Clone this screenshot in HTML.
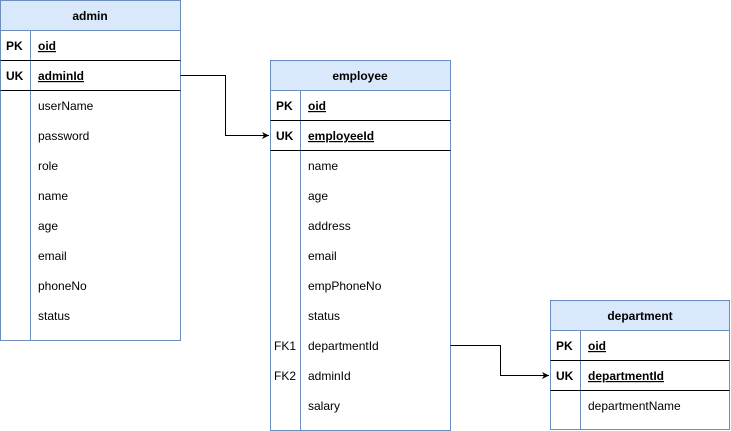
<!DOCTYPE html>
<html><head><meta charset="utf-8"><style>
html,body{margin:0;padding:0;background:#fff;}
svg{display:block;}
text{font-family:"Liberation Sans",Arial,sans-serif;font-size:12px;fill:#000;}
.h{font-weight:bold;}
.k{font-weight:bold;}
.u{text-decoration:underline;font-weight:bold;}
</style></head><body>
<svg width="731" height="431" viewBox="0 0 731 431" xmlns="http://www.w3.org/2000/svg">
<defs><marker id="a" markerWidth="8" markerHeight="8" refX="7" refY="4" orient="auto" markerUnits="userSpaceOnUse"><path d="M0,0.5 L7,4 L0,7.5 L2,4 Z" fill="#000"/></marker></defs>

<g transform="translate(0.5,0.5)">
<rect x="0" y="0" width="180" height="340" fill="#fff" stroke="#6c8ebf"/>
<rect x="0" y="0" width="180" height="30" fill="#dae8fc" stroke="#6c8ebf"/>
<line x1="30" y1="30" x2="30" y2="340" stroke="#6c8ebf"/>
<line x1="0" y1="60" x2="180" y2="60" stroke="#000"/>
<line x1="0" y1="90" x2="180" y2="90" stroke="#000"/>
</g>
<g transform="translate(0,1)">
<text class="h" x="90" y="19" text-anchor="middle">admin</text>
<text class="k" x="6" y="49">PK</text><text class="u" x="38" y="49">oid</text>
<text class="k" x="6" y="79">UK</text><text class="u" x="38" y="79">adminId</text>
<text x="38" y="109">userName</text>
<text x="38" y="139">password</text>
<text x="38" y="169">role</text>
<text x="38" y="199">name</text>
<text x="38" y="229">age</text>
<text x="38" y="259">email</text>
<text x="38" y="289">phoneNo</text>
<text x="38" y="319">status</text>
</g>

<g transform="translate(270.5,60.5)">
<rect x="0" y="0" width="180" height="370" fill="#fff" stroke="#6c8ebf"/>
<rect x="0" y="0" width="180" height="30" fill="#dae8fc" stroke="#6c8ebf"/>
<line x1="30" y1="30" x2="30" y2="370" stroke="#6c8ebf"/>
<line x1="0" y1="60" x2="180" y2="60" stroke="#000"/>
<line x1="0" y1="90" x2="180" y2="90" stroke="#000"/>
</g>
<g transform="translate(0,1)">
<text class="h" x="360" y="79" text-anchor="middle">employee</text>
<text class="k" x="276" y="109">PK</text><text class="u" x="308" y="109">oid</text>
<text class="k" x="276" y="139">UK</text><text class="u" x="308" y="139">employeeId</text>
<text x="308" y="169">name</text>
<text x="308" y="199">age</text>
<text x="308" y="229">address</text>
<text x="308" y="259">email</text>
<text x="308" y="289">empPhoneNo</text>
<text x="308" y="319">status</text>
<text x="274" y="349">FK1</text><text x="308" y="349">departmentId</text>
<text x="274" y="379">FK2</text><text x="308" y="379">adminId</text>
<text x="308" y="409">salary</text>
</g>

<g transform="translate(550.5,300.5)">
<rect x="0" y="0" width="179" height="129" fill="#fff" stroke="#6c8ebf"/>
<rect x="0" y="0" width="179" height="30" fill="#dae8fc" stroke="#6c8ebf"/>
<line x1="30" y1="30" x2="30" y2="129" stroke="#6c8ebf"/>
<line x1="0" y1="60" x2="179" y2="60" stroke="#000"/>
<line x1="0" y1="90" x2="179" y2="90" stroke="#000"/>
</g>
<g transform="translate(0,1)">
<text class="h" x="640" y="319" text-anchor="middle">department</text>
<text class="k" x="556" y="349">PK</text><text class="u" x="588" y="349">oid</text>
<text class="k" x="556" y="379">UK</text><text class="u" x="588" y="379">departmentId</text>
<text x="588" y="409">departmentName</text>
</g>

<path d="M180.5,75.5 H225.5 V135.5 H269" fill="none" stroke="#000" marker-end="url(#a)"/>
<path d="M450.5,345.5 H500.5 V375.5 H549" fill="none" stroke="#000" marker-end="url(#a)"/>
</svg>
</body></html>
